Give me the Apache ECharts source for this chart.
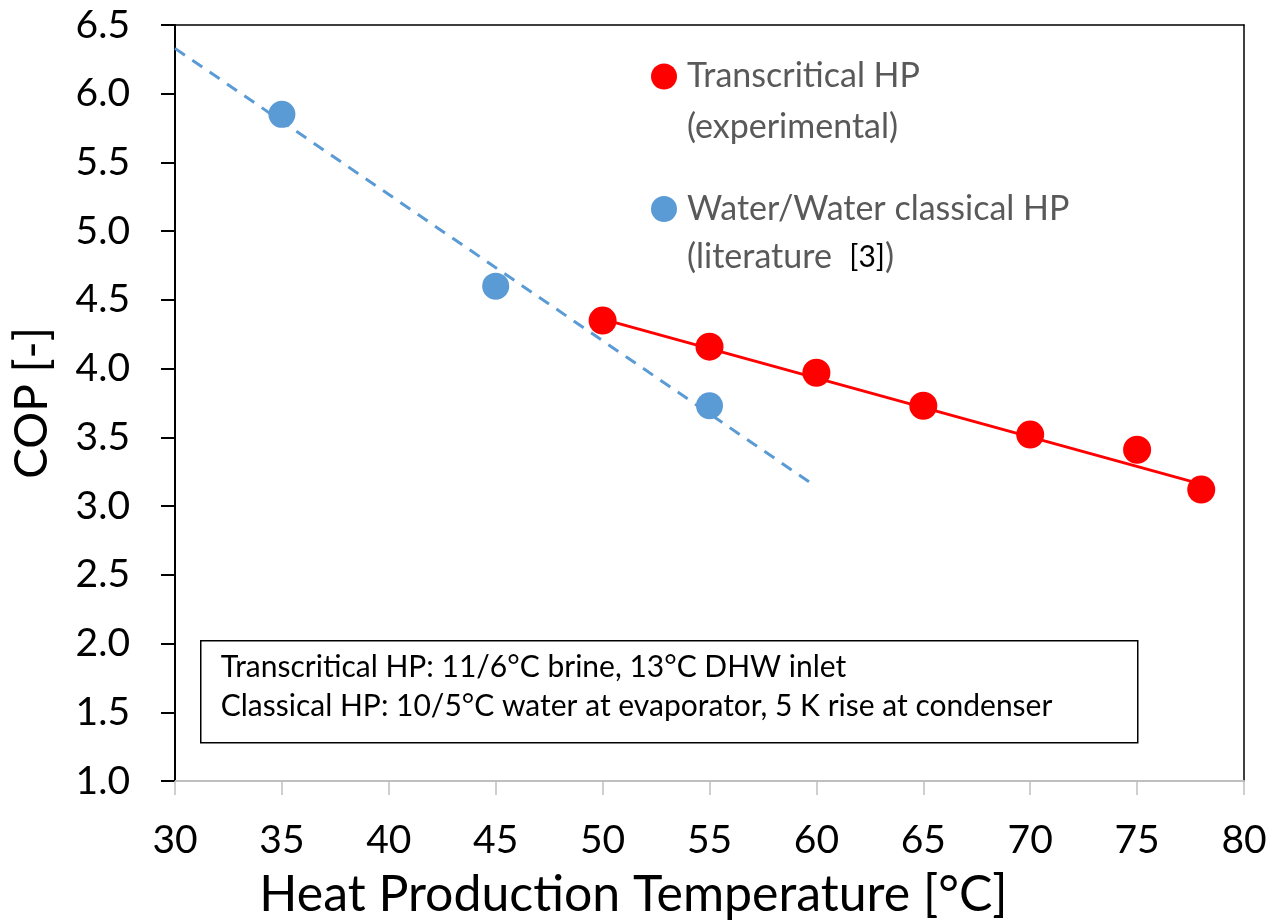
<!DOCTYPE html>
<html>
<head>
<meta charset="utf-8">
<script src="https://cdn.jsdelivr.net/npm/echarts@6/dist/echarts.min.js"></script>
<style>html,body{margin:0;padding:0;background:#fff}#c{width:1272px;height:921px}</style>
</head>
<body>
<div id="c"></div>
<script>
// ---- data ----
const transTemps = [50, 55, 60, 65, 70, 75, 78];
const transCOP   = [4.35, 4.16, 3.97, 3.73, 3.52, 3.41, 3.12];
const classTemps = [35, 45, 55];
const classCOP   = [5.85, 4.60, 3.73];
// trendlines (endpoints)
const transTrendX = [50, 78];
const transTrendY = [4.36, 3.16];
const classTrendX = [30, 60];
const classTrendY = [6.33, 3.14];
const xTicks = [30, 35, 40, 45, 50, 55, 60, 65, 70, 75, 80];
const yTicks = [1.0, 1.5, 2.0, 2.5, 3.0, 3.5, 4.0, 4.5, 5.0, 5.5, 6.0, 6.5];
const transName = 'Transcritical HP (experimental)';
const className = 'Water/Water classical HP (literature [3])';
const noteLines = ['Transcritical HP: 11/6°C brine, 13°C DHW inlet',
                   'Classical HP: 10/5°C water at evaporator, 5 K rise at condenser'];

const zip = (xs, ys) => xs.map((x, i) => [x, ys[i]]);
const FONT = 'Lato';

const chart = echarts.init(document.getElementById('c'), null, {renderer: 'canvas'});
chart.setOption({
  backgroundColor: '#fff',
  animation: false,
  textStyle: {fontFamily: FONT},
  grid: {left: 175, right: 28, top: 25, bottom: 140, containLabel: false, outerBoundsMode: 'none'},
  xAxis: [{
    type: 'value', min: xTicks[0], max: xTicks[xTicks.length - 1], interval: 5,
    name: 'Heat Production Temperature [°C]', nameLocation: 'middle', nameGap: 89,
    nameTextStyle: {fontSize: 50, color: '#000', fontFamily: FONT, padding: [0, 152, 0, 0]},
    axisLine: {show: true, onZero: false, lineStyle: {color: '#BFBFBF', width: 2}},
    axisTick: {show: true, length: 14, lineStyle: {color: '#BFBFBF', width: 1.5}},
    axisLabel: {fontSize: 39, color: '#000', margin: 40, fontFamily: FONT},
    splitLine: {show: false}
  }, {
    type: 'value', position: 'top', min: 30, max: 80,
    axisLine: {show: true, lineStyle: {color: '#000', width: 1.5}},
    axisTick: {show: false}, axisLabel: {show: false}, splitLine: {show: false}
  }],
  yAxis: [{
    type: 'value', min: yTicks[0], max: yTicks[yTicks.length - 1], interval: 0.5,
    name: 'COP [-]', nameLocation: 'middle', nameGap: 120, nameRotate: 90,
    nameTextStyle: {fontSize: 46, color: '#000', fontFamily: FONT},
    axisLine: {show: true, onZero: false, lineStyle: {color: '#000', width: 2}},
    axisTick: {show: true, length: 14, lineStyle: {color: '#000', width: 2}},
    axisLabel: {fontSize: 39, color: '#000', margin: 45, fontFamily: FONT,
                formatter: v => v.toFixed(1)},
    splitLine: {show: false}
  }, {
    type: 'value', position: 'right', min: 1, max: 6.5,
    axisLine: {show: true, lineStyle: {color: '#000', width: 1.5}},
    axisTick: {show: false}, axisLabel: {show: false}, splitLine: {show: false}
  }],
  legend: [{
    data: [transName], orient: 'vertical', left: 651, top: 0, padding: 0,
    icon: 'circle', itemWidth: 26, itemHeight: 26,
    formatter: () => ' \nTranscritical HP\n(experimental)',
    textStyle: {fontSize: 34, color: '#595959', lineHeight: 51, padding: [0, 0, 0, 5], fontFamily: FONT}
  }, {
    data: [className], orient: 'vertical', left: 651, top: 137, padding: 0,
    icon: 'circle', itemWidth: 26, itemHeight: 26,
    formatter: () => ' \nWater/Water classical HP\n(literature  {b|[3]})',
    textStyle: {fontSize: 34, color: '#595959', lineHeight: 48, padding: [0, 0, 0, 5], fontFamily: FONT,
      rich: {b: {fontSize: 30, color: '#000', fontFamily: FONT, lineHeight: 48}}}
  }],
  graphic: [{
    type: 'group', left: 200, top: 640,
    children: [{
      type: 'rect', shape: {x: 0, y: 0, width: 937, height: 102},
      style: {fill: '#fff', stroke: '#000', lineWidth: 1.5}
    }, {
      type: 'text', x: 20, y: 27,
      style: {text: noteLines[0], font: '30px ' + FONT, fill: '#000', verticalAlign: 'middle'}
    }, {
      type: 'text', x: 20, y: 66,
      style: {text: noteLines[1], font: '30px ' + FONT, fill: '#000', verticalAlign: 'middle'}
    }]
  }],
  series: [{
    name: 'classTrend', type: 'line', data: zip(classTrendX, classTrendY),
    symbol: 'none', silent: true,
    lineStyle: {color: '#5B9BD5', width: 3, type: [12, 9]}, z: 2
  }, {
    name: 'transTrend', type: 'line', data: zip(transTrendX, transTrendY),
    symbol: 'none', silent: true,
    lineStyle: {color: '#FF0000', width: 3}, z: 2
  }, {
    name: className, type: 'scatter', data: zip(classTemps, classCOP),
    symbol: 'circle', symbolSize: 27, itemStyle: {color: '#5B9BD5', opacity: 1}, z: 3
  }, {
    name: transName, type: 'scatter', data: zip(transTemps, transCOP),
    symbol: 'circle', symbolSize: 28, itemStyle: {color: '#FF0000', opacity: 1}, z: 3
  }]
});
</script>
</body>
</html>
